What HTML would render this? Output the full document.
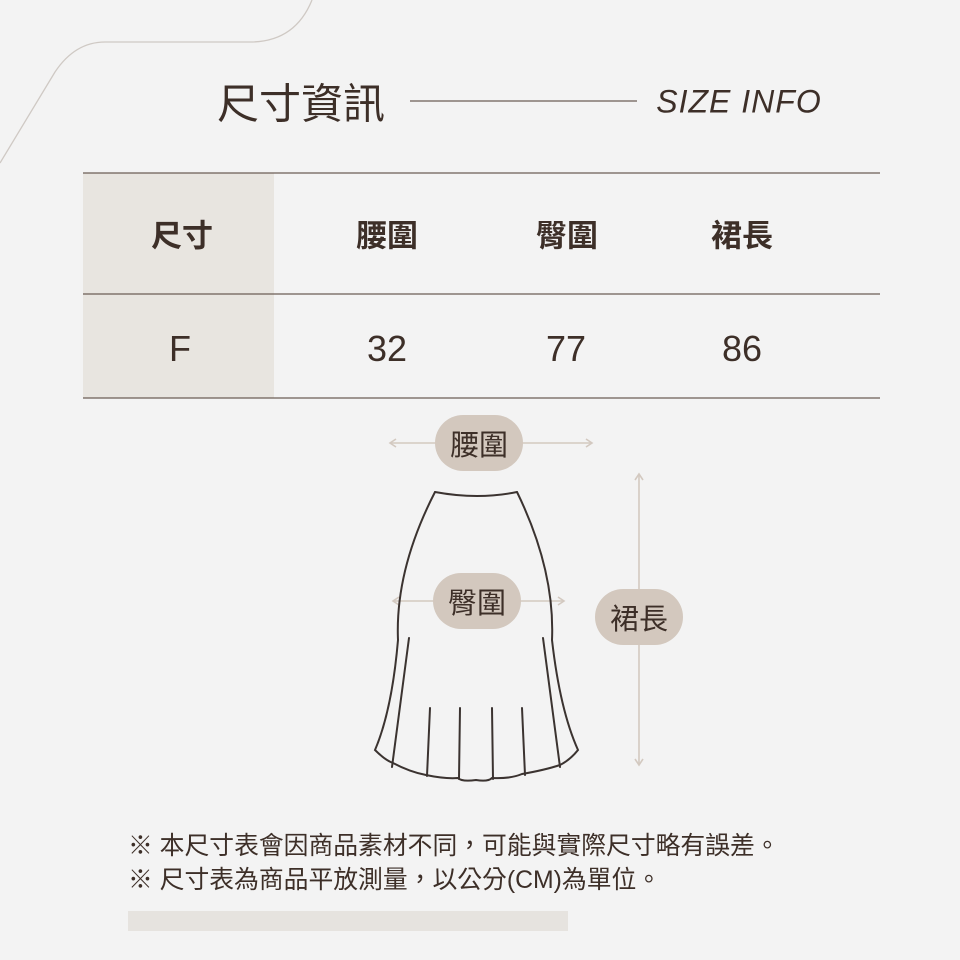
<!DOCTYPE html>
<html><head><meta charset="utf-8"><style>
body{margin:0;width:960px;height:960px;background:#f3f3f3;position:relative;overflow:hidden;font-family:"Liberation Sans","Noto Sans CJK TC",sans-serif;color:#3d2f28}
.a{position:absolute}
.c{position:absolute;transform:translate(-50%,-50%);white-space:nowrap}
</style></head><body>
<svg class="a" style="left:0;top:0" width="960" height="960">
<path d="M0 163 L55 72 Q75 42 105 42 L250 42 Q295 42 312 0" fill="none" stroke="#cfc9c4" stroke-width="1.3"/>
<line x1="410" y1="101" x2="637" y2="101" stroke="#6b5d55" stroke-width="1.3"/>
<rect x="83" y="173" width="191" height="225" fill="#e8e5e0"/>
<line x1="83" y1="173" x2="880" y2="173" stroke="#6b5d55" stroke-width="1.3"/>
<line x1="83" y1="294" x2="880" y2="294" stroke="#6b5d55" stroke-width="1.3"/>
<line x1="83" y1="398" x2="880" y2="398" stroke="#6b5d55" stroke-width="1.3"/>
<rect x="128" y="911" width="440" height="20" fill="#e6e3df"/>
<g stroke="#d3c9c0" stroke-width="1.6" fill="none">
<line x1="390" y1="443" x2="592" y2="443"/><path d="M396 439 L390 443 L396 447 M586 439 L592 443 L586 447"/>
<line x1="393" y1="601" x2="564" y2="601"/><path d="M399 597 L393 601 L399 605 M558 597 L564 601 L558 605"/>
<line x1="639" y1="474" x2="639" y2="765"/><path d="M635 480 L639 474 L643 480 M635 759 L639 765 L643 759"/>
</g>
<g stroke="#3b3330" stroke-width="2" fill="none" stroke-linecap="round">
<path d="M435 492 Q478 500 517 492"/>
<path d="M435 492 Q395 570 398 640 Q392 710 375 750 Q385 760 393 763"/>
<path d="M517 492 Q555 570 552 640 Q560 710 578 750 Q570 760 560 765"/>
<path d="M393 763 Q410 772 426 775 Q445 779 458 778 Q462 782 476 780 Q488 782 492 778 Q510 779 522 774 Q545 770 560 765"/>
<path d="M409 638 L392 767"/><path d="M543 638 L560 767"/>
<path d="M430 708 L427 776"/><path d="M460 708 L459 779"/><path d="M492 708 L493 779"/><path d="M522 708 L525 775"/>
</g>
<g fill="#d3c8be">
<rect x="435" y="415" width="88" height="56" rx="28"/>
<rect x="433" y="573" width="88" height="56" rx="28"/>
<rect x="595" y="589" width="88" height="56" rx="28"/>
</g>
</svg>
<div class="c" style="left:301px;top:101px;font-size:42px">尺寸資訊</div>
<div class="c" style="left:739px;top:102px;font-size:32px;font-style:italic;letter-spacing:1px">SIZE INFO</div>
<div class="c" style="left:182px;top:233px;font-size:31px;font-weight:bold">尺寸</div>
<div class="c" style="left:387px;top:233px;font-size:31px;font-weight:bold">腰圍</div>
<div class="c" style="left:567px;top:233px;font-size:31px;font-weight:bold">臀圍</div>
<div class="c" style="left:742px;top:233px;font-size:31px;font-weight:bold">裙長</div>
<div class="c" style="left:180px;top:349px;font-size:36px">F</div>
<div class="c" style="left:387px;top:349px;font-size:36px">32</div>
<div class="c" style="left:566px;top:349px;font-size:36px">77</div>
<div class="c" style="left:742px;top:349px;font-size:36px">86</div>
<div class="c" style="left:479px;top:443px;font-size:29px">腰圍</div>
<div class="c" style="left:477px;top:601px;font-size:29px">臀圍</div>
<div class="c" style="left:639px;top:617px;font-size:29px">裙長</div>
<div class="a" style="left:128px;top:830px;font-size:24.8px;line-height:34px">※ 本尺寸表會因商品素材不同，可能與實際尺寸略有誤差。<br>※ 尺寸表為商品平放測量，以公分(CM)為單位。</div>
</body></html>
